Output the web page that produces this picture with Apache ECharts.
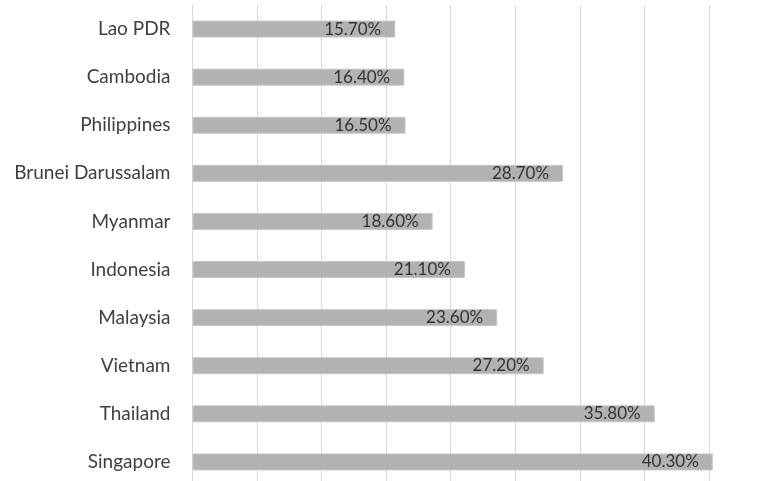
<!DOCTYPE html>
<html><head><meta charset="utf-8">
<script src="https://cdn.jsdelivr.net/npm/echarts@6/dist/echarts.min.js"></script>
<style>html,body{margin:0;padding:0;background:#fff}#c{width:763px;height:481px}</style>
</head><body><div id="c"></div>
<script>
const categories = ['Lao PDR','Cambodia','Philippines','Brunei Darussalam','Myanmar','Indonesia','Malaysia','Vietnam','Thailand','Singapore'];
const values = [15.7, 16.4, 16.5, 28.7, 18.6, 21.1, 23.6, 27.2, 35.8, 40.3];
const chart = echarts.init(document.getElementById('c'), null, {renderer:'canvas'});
chart.setOption({
  animation:false,
  grid:{left:192.5, width:581, top:5, height:481, containLabel:false, outerBoundsMode:'none'},
  xAxis:{type:'value', min:0, max:45, interval:5,
    axisLine:{show:false}, axisTick:{show:false}, axisLabel:{show:false},
    splitLine:{show:true, lineStyle:{color:'#d9d9d9', width:1}}},
  yAxis:{type:'category', data:categories, inverse:true,
    axisLine:{show:false}, axisTick:{show:false},
    axisLabel:{margin:22, color:'#404040', fontFamily:'Lato', fontSize:19}},
  series:[{type:'bar', data:values, barWidth:17, clip:false,
    itemStyle:{color:'#b1b2b4', borderColor:'#c6c7c9', borderWidth:1},
    label:{show:true, position:'insideRight', distance:14, color:'#333333',
      fontFamily:'Lato', fontSize:17,
      formatter:p=>p.value.toFixed(2)+'%'}}]
});
</script></body></html>
